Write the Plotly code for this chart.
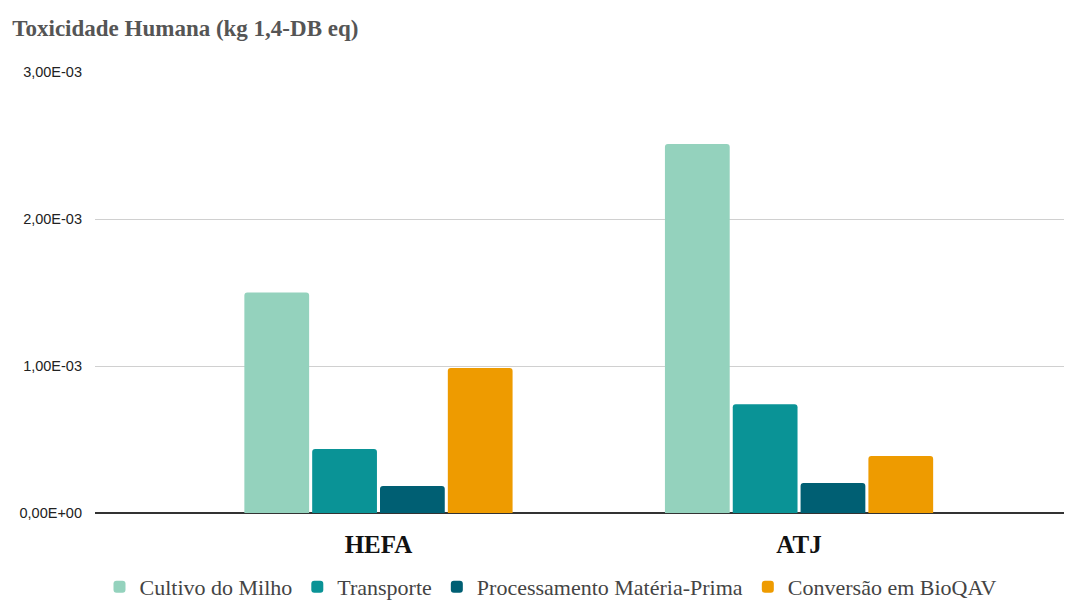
import plotly.graph_objects as go

categories = ["HEFA", "ATJ"]
series_names = ["Cultivo do Milho", "Transporte", "Processamento Matéria-Prima", "Conversão em BioQAV"]
cultivo = [1.50e-3, 2.51e-3]
transporte = [0.435e-3, 0.74e-3]
processamento = [0.184e-3, 0.204e-3]
conversao = [0.986e-3, 0.388e-3]
colors = ["#94d2bd", "#0a9396", "#005f73", "#ee9b00"]
tick_vals = [0, 1e-3, 2e-3, 3e-3]
tick_text = ["0,00E+00", "1,00E-03", "2,00E-03", "3,00E-03"]

fig = go.Figure()
for name, vals, col in zip(series_names, [cultivo, transporte, processamento, conversao], colors):
    fig.add_trace(go.Bar(x=categories, y=vals, name=name, marker=dict(color=col, line=dict(width=0))))

# the page body adds an 8px offset; margins compensate for it
fig.update_layout(
    width=1072, height=603,
    paper_bgcolor="white", plot_bgcolor="white",
    margin=dict(l=87, r=0, t=64, b=98, autoexpand=False),
    barmode="group", bargap=0.355, bargroupgap=0.045,
    barcornerradius=3,
    title=dict(text="<b>Toxicidade Humana (kg 1,4-DB eq)</b>",
               font=dict(family="Liberation Serif", size=23, color="#555555"),
               x=0.004, xanchor="left", xref="container",
               y=1 - 20 / 603, yanchor="middle", yref="container"),
    legend=dict(orientation="h", x=(543 - 87) / 985, xanchor="center",
                y=-74 / 441, yanchor="middle",
                font=dict(family="Liberation Serif", size=22, color="#444444"),
                traceorder="normal"),
    showlegend=True,
)
fig.update_xaxes(range=[-0.674, 1.668], showgrid=False, showline=False, zeroline=False,
                 tickfont=dict(family="Liberation Serif", size=25, color="#111111"),
                 ticks="", ticklabelstandoff=14, automargin=False)
fig.update_yaxes(range=[0, 3e-3], tickvals=tick_vals, ticktext=tick_text,
                 showgrid=True, gridcolor="#d0d0d0", gridwidth=1,
                 zeroline=True, zerolinecolor="#333333", zerolinewidth=2,
                 showline=False, ticks="", ticklabelstandoff=12, automargin=False,
                 tickfont=dict(family="Liberation Sans Narrow, Liberation Sans", size=14.5, color="#222222"))
fig.for_each_xaxis(lambda a: a.update(tickprefix="<b>", ticksuffix="</b>"))
fig.write_html("out.html")
